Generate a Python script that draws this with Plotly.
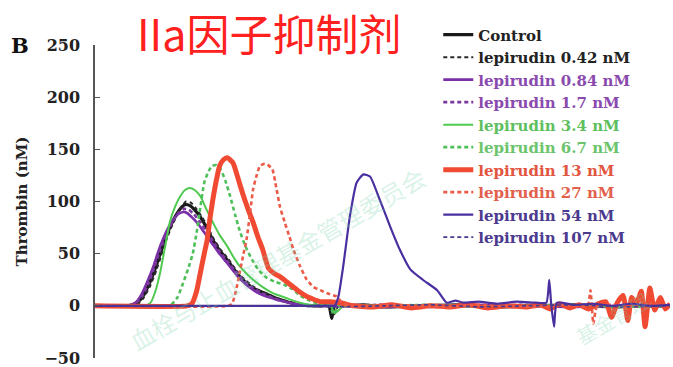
import plotly.graph_objects as go

# Thrombin generation curves (time in min, thrombin in nM)
control_t = [0, 3.5, 4.4, 5.0, 5.7, 6.3, 6.8, 7.3, 7.8, 8.4, 8.9, 9.4, 9.9, 10.4, 11.0, 11.7, 12.3, 13.0, 13.8, 14.5, 15.1, 15.8, 16.5, 17.2, 18.0, 18.7, 19.3, 20.2, 21.0, 22.0, 23.5, 24.4, 24.7, 25.0, 26, 28, 30, 34, 38, 42, 46, 50, 54, 58, 60]
control_y = [0, 0, 3, 9, 22, 36, 50, 63, 75, 86, 93, 97, 96, 92, 85, 74, 63, 53, 44, 35, 28, 22, 17, 14, 11, 8, 6, 3.5, 1.5, 0.5, 0, 0, -12, 0, 0, 1, -1, 0, 1, -1, 0, 1, -1, 0, 0]

lep042_t = [0, 3.6, 4.5, 5.1, 5.8, 6.4, 6.9, 7.4, 7.9, 8.5, 9.0, 9.5, 10.0, 10.5, 11.1, 11.8, 12.4, 13.1, 13.9, 14.6, 15.2, 15.9, 16.6, 17.3, 18.1, 18.8, 19.4, 20.3, 21.1, 22.1, 23.5, 24.6, 25.0, 25.4, 27, 30, 35, 40, 45, 50, 55, 60]
lep042_y = [0, 0, 2, 8, 20, 34, 48, 62, 74, 86, 95, 100, 99, 94, 86, 75, 64, 54, 45, 36, 29, 23, 18, 14, 11, 8, 6, 4, 2, 0.5, 0, 0, -8, 0, 0, 1, -1, 0, 1, 0, -1, 0]

lep084_t = [0, 3.3, 4.2, 4.8, 5.5, 6.1, 6.6, 7.1, 7.6, 8.2, 8.7, 9.2, 9.6, 10.1, 10.8, 11.5, 12.2, 12.9, 13.7, 14.4, 15.0, 15.7, 16.4, 17.1, 17.9, 18.6, 19.3, 20.2, 21.0, 22.0, 23.5, 26, 30, 35, 40, 45, 50, 55, 60]
lep084_y = [0, 0, 3, 10, 24, 38, 52, 64, 74, 83, 88, 90, 89, 85, 78, 69, 60, 51, 42, 34, 27, 21, 16, 12, 9, 7, 5, 3, 1.5, 0.5, 0, 0, -1, 0, 1, 0, -1, 0, 0]

lep17_t = [0, 3.4, 4.3, 4.9, 5.6, 6.2, 6.7, 7.2, 7.7, 8.3, 8.8, 9.3, 9.8, 10.3, 10.9, 11.6, 12.3, 13.0, 13.8, 14.5, 15.1, 15.8, 16.5, 17.2, 18.0, 18.7, 19.4, 20.3, 21.1, 22.1, 23.5, 26, 30, 35, 40, 45, 50, 55, 60]
lep17_y = [0, 0, 3, 9, 22, 37, 51, 63, 74, 84, 90, 93, 92, 88, 81, 72, 62, 52, 43, 35, 28, 22, 17, 13, 10, 7, 5, 3, 1.5, 0.5, 0, 0, 1, -1, 0, 1, 0, -1, 0]

lep34_t = [0, 5.2, 5.8, 6.3, 6.8, 7.3, 7.8, 8.4, 8.9, 9.4, 9.9, 10.4, 11.0, 11.6, 12.3, 13.0, 13.8, 14.5, 15.1, 15.8, 16.5, 17.5, 18.6, 19.5, 20.4, 21.4, 22.4, 23.5, 24.6, 25.0, 26, 30, 35, 40, 45, 50, 55, 60]
lep34_y = [0, 0, 3, 14, 32, 56, 80, 96, 105, 111, 113, 111, 105, 93, 80, 68, 57, 46, 38, 31, 25, 18, 12, 9, 6, 3, 1, 0, 0, -7, 0, 0, 1, -1, 0, 1, -1, 0]

lep67_t = [0, 7.8, 8.6, 9.2, 9.7, 10.2, 10.6, 11.0, 11.4, 11.8, 12.2, 12.6, 13.1, 13.6, 14.1, 14.6, 15.1, 15.7, 16.4, 17.1, 17.9, 18.8, 19.8, 20.6, 21.4, 22.4, 23.4, 24.5, 24.9, 25.4, 26.5, 30, 35, 40, 45, 50, 55, 60]
lep67_y = [0, 0, 8, 22, 35, 50, 70, 95, 118, 128, 134, 135, 131, 120, 105, 88, 72, 57, 44, 34, 27, 23, 20, 16, 10, 5, 2, 0, -8, 0, 0, 0, 1, -1, 0, 1, -1, 0]

lep13_t = [0, 9.6, 10.1, 10.6, 11.0, 11.4, 11.7, 12.0, 12.3, 12.7, 13.0, 13.4, 13.8, 14.4, 14.9, 15.4, 16.0, 16.5, 17.0, 17.5, 18.1, 18.7, 19.3, 20.0, 20.7, 21.4, 22.1, 23.5, 24.5, 25.6, 27, 29, 31, 33, 35, 37, 39, 41, 43, 45, 46.5, 47.5, 48.5, 49.5, 50.5, 51.5, 52.5, 53.3, 53.9, 54.5, 55.1, 55.6, 56.0, 56.5, 57.0, 57.4, 57.9, 58.4, 59.0, 59.5, 60]
lep13_y = [0, 0, 2, 14, 32, 50, 63, 84, 102, 122, 134, 140, 142, 137, 123, 108, 92, 80, 66, 54, 36, 31, 28, 23, 18, 13, 9, 4, 4, 3, 0, -1, 1, -2, 0, -1, 1, -2, 0, -1, 1, -3, 2, -2, 1, -3, 2, 4, -11, 3, 10, -14, 8, 2, 14, -20, 17, -4, 8, -3, 2]

lep27_t = [0, 13.9, 14.3, 14.7, 15.1, 15.5, 15.8, 16.2, 16.5, 16.9, 17.2, 17.6, 17.9, 18.5, 18.9, 19.3, 19.8, 20.3, 20.7, 21.4, 22.1, 22.8, 23.5, 24.2, 25.2, 25.8, 26.5, 28, 31, 34, 37, 40, 43, 46, 49, 51.4, 51.7, 52.0, 52.4, 54, 56, 58, 60]
lep27_y = [0, 0, 2, 14, 32, 50, 63, 90, 112, 126, 134, 136, 136, 131, 114, 95, 80, 66, 54, 38, 25, 18, 15, 12, 9, 3, 0, -1, 1, 0, -1, 1, 0, -1, 1, 0, 15, -17, 0, 1, -1, 2, 0]

lep54_t = [0, 5, 10, 15, 20, 24.5, 25.0, 25.4, 25.9, 26.6, 27.3, 28.0, 28.7, 29.7, 30.8, 31.8, 32.9, 34.2, 35.7, 36.7, 37.6, 38.5, 40, 42, 44, 46, 47.1, 47.4, 47.6, 47.9, 48.2, 50, 52, 54, 56, 58, 60]
lep54_y = [0, 0, 0, 0, 0, 0, 0, 9, 38, 86, 118, 126, 124, 102, 76, 54, 35, 25, 15, 3, 5, 3, 4, 2, 4, 3, 3, 25, 2, -20, 3, 1, 2, 0, 2, 0, 1]

lep107_t = [0, 10, 20, 25, 30, 35, 40, 45, 50, 55, 60]
lep107_y = [0, 0, 0, -1, 0, 1, -1, 0, 1, -1, 0]

y_ticks = [-50, 0, 50, 100, 150, 200, 250]

series = [
    ("Control", control_t, control_y, "#1a1a1a", "solid", 3.2, "#222222"),
    ("lepirudin 0.42 nM", lep042_t, lep042_y, "#2a2a2a", "4px,3px", 2, "#222222"),
    ("lepirudin 0.84 nM", lep084_t, lep084_y, "#7a2ea8", "solid", 2.6, "#8a4aae"),
    ("lepirudin 1.7 nM", lep17_t, lep17_y, "#7a38a0", "4px,3px", 2.6, "#8a4aae"),
    ("lepirudin 3.4 nM", lep34_t, lep34_y, "#4fc94f", "solid", 2, "#5fbf5f"),
    ("lepirudin 6.7 nM", lep67_t, lep67_y, "#4fbf5a", "4px,3px", 2.6, "#6cc46c"),
    ("lepirudin 13 nM", lep13_t, lep13_y, "#f04a32", "solid", 5, "#e2553f"),
    ("lepirudin 27 nM", lep27_t, lep27_y, "#ec5a48", "4px,3px", 2.6, "#e2604c"),
    ("lepirudin 54 nM", lep54_t, lep54_y, "#4a2fa0", "solid", 2.2, "#4b3a8e"),
    ("lepirudin 107 nM", lep107_t, lep107_y, "#4a3a8e", "4px,3px", 1.6, "#4b3a8e"),
]

fig = go.Figure()
for name, t, y, color, dash, width, text_color in series:
    fig.add_trace(go.Scatter(
        x=t, y=y, mode="lines",
        name=f'<span style="color:{text_color}">{name}</span>',
        line=dict(color=color, dash=dash, width=width, shape="spline", smoothing=0.5),
    ))

serif = "DejaVu Serif"
watermark = dict(family="Noto Sans CJK SC", size=24, color="rgba(120,210,170,0.28)")

fig.update_layout(
    width=673, height=367,
    margin=dict(l=95, r=3, t=45, b=9, autoexpand=False),
    paper_bgcolor="white", plot_bgcolor="white",
    showlegend=True,
    legend=dict(
        x=0.597, xanchor="left", y=1.085, yanchor="top",
        bgcolor="rgba(0,0,0,0)", borderwidth=0,
        font=dict(family=serif, size=15, color="#222222", weight="bold"),
        tracegroupgap=0, maxheight=320,
    ),
    xaxis=dict(visible=False, range=[0, 60]),
    yaxis=dict(
        range=[-50, 250], tickvals=y_ticks, automargin=False,
        showgrid=False, zeroline=False,
        showline=True, linecolor="#555555", linewidth=1.5,
        ticks="inside", ticklen=5, tickcolor="#555555", tickwidth=1.2,
        ticklabelstandoff=10, ticklabeloverflow="allow",
        tickfont=dict(family=serif, size=16, color="#222222", weight="bold"),
        title=dict(text="Thrombin (nM)", standoff=13,
                   font=dict(family=serif, size=15, color="#222222", weight="bold")),
    ),
    annotations=[
        dict(text="IIa因子抑制剂", xref="paper", yref="paper", x=0.302, y=1.043,
             xanchor="center", yanchor="middle", showarrow=False,
             font=dict(family="Noto Sans CJK SC", size=43, color="#ff2020")),
        dict(text="B", xref="paper", yref="paper", x=-0.13, y=1.0,
             xanchor="center", yanchor="middle", showarrow=False,
             font=dict(family=serif, size=21, color="#111111", weight="bold")),
        dict(text="血栓与止血管理基金管理委员会", xref="paper", yref="paper",
             x=(277 - 95) / 575, y=(358 - 258) / 313, textangle=-30,
             xanchor="center", yanchor="middle", showarrow=False, font=watermark),
        dict(text="基金管理", xref="paper", yref="paper",
             x=(612 - 95) / 575, y=(358 - 318) / 313, textangle=-30,
             xanchor="center", yanchor="middle", showarrow=False,
             font=dict(family="Noto Sans CJK SC", size=20, color="rgba(120,210,170,0.28)")),
    ],
)

fig.write_html("out.html")
